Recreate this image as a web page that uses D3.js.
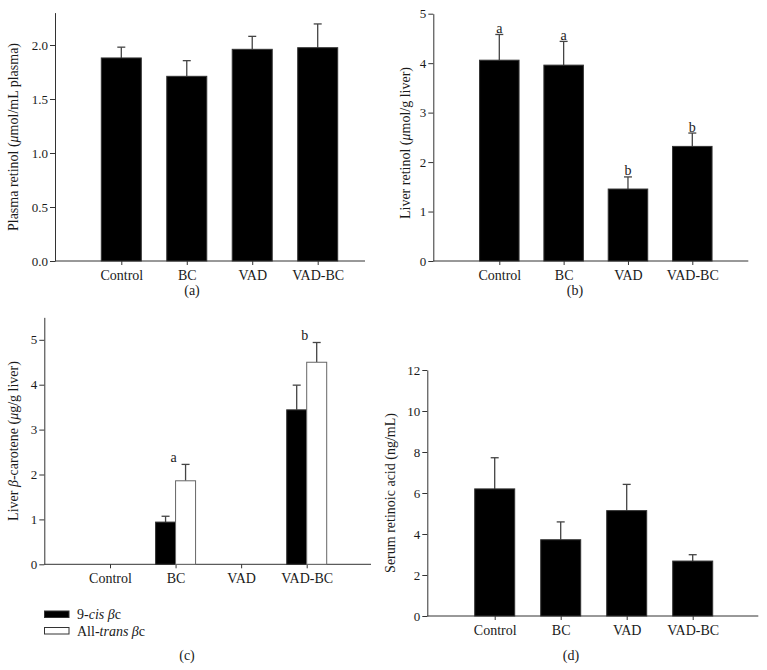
<!DOCTYPE html>
<html><head><meta charset="utf-8">
<script src="https://cdn.jsdelivr.net/npm/d3@7"></script>
<style>
body{margin:0;background:#fff;}
svg{display:block;font-family:"Liberation Serif","Times New Roman",serif;}
</style></head>
<body><svg id="c" width="767" height="670"></svg>
<script>
const categories = ["Control","BC","VAD","VAD-BC"];
// (a) Plasma retinol
const plasmaRetinol = [1.88, 1.71, 1.96, 1.975];
const plasmaRetinolErr = [0.10, 0.145, 0.12, 0.22];
const ticksA = [0, 0.5, 1.0, 1.5, 2.0];
// (b) Liver retinol
const liverRetinol = [4.06, 3.96, 1.455, 2.317];
const liverRetinolErr = [0.52, 0.48, 0.245, 0.27];
const lettersB = ["a","a","b","b"];
const ticksB = [0,1,2,3,4,5];
// (c) Liver beta-carotene
const cisBC = [0, 0.94, 0, 3.44];
const cisBCErr = [0, 0.13, 0, 0.55];
const transBC = [0, 1.86, 0, 4.50];
const transBCErr = [0, 0.365, 0, 0.44];
const lettersC = ["", "a", "", "b"];
const ticksC = [0,1,2,3,4,5];
// (d) Serum retinoic acid
const retinoicAcid = [6.20, 3.72, 5.14, 2.68];
const retinoicAcidErr = [1.52, 0.87, 1.28, 0.31];
const ticksD = [0,2,4,6,8,10,12];

const svg = d3.select("#c");
const FS = 14, FT = 13;
const AX = "#333", ERR = "#444", TXT = "#1a1a1a";

function panel(o){
  const g = svg.append("g");
  const y = d3.scaleLinear().domain([0, o.ymax]).range([o.base, o.top]);
  const x = d3.scalePoint().domain(categories).range([o.c0, o.c1]);
  const ya = g.append("g").attr("transform",`translate(${o.left},0)`)
    .call(d3.axisLeft(y).tickValues(o.ticks).tickSize(5).tickSizeOuter(0).tickPadding(2).tickFormat(o.fmt));
  ya.select(".domain").attr("stroke",AX);
  ya.selectAll(".tick line").attr("stroke",AX);
  ya.selectAll("text").attr("font-family","Liberation Serif").attr("font-size",FT).attr("fill",TXT);
  const xa = g.append("g").attr("transform",`translate(0,${o.base})`)
    .call(d3.axisBottom(x).tickSize(4).tickPadding(5).tickSizeOuter(0));
  xa.select(".domain").remove();
  xa.selectAll(".tick line").attr("stroke",AX);
  xa.selectAll("text").attr("font-family","Liberation Serif").attr("font-size",FS).attr("fill",TXT);
  g.append("line").attr("x1",o.left).attr("x2",o.right).attr("y1",o.base).attr("y2",o.base).attr("stroke",AX);
  const lab = g.append("text").attr("transform",`translate(${o.labX},${o.labY}) rotate(-90)`)
    .attr("text-anchor","middle").attr("font-size",FS).attr("fill",TXT);
  o.label.forEach(p=>lab.append("tspan").attr("font-style",p[1]?"italic":null).text(p[0]));
  g.append("text").attr("x",o.capX).attr("y",o.capY).attr("text-anchor","middle").attr("font-size",FS).attr("fill",TXT).text(o.cap);
  return {g,x,y};
}

function bars(p, vals, errs, w, off, fill, letters){
  const {g,x,y} = p;
  vals.forEach((v,i)=>{
    if(v<=0) return;
    const cx = x(categories[i]) + off;
    const e = v + errs[i];
    g.append("line").attr("x1",cx).attr("x2",cx).attr("y1",y(v)).attr("y2",y(e)).attr("stroke",ERR).attr("stroke-width",1.3);
    g.append("line").attr("x1",cx-4).attr("x2",cx+4).attr("y1",y(e)).attr("y2",y(e)).attr("stroke",ERR).attr("stroke-width",1.3);
    g.append("rect").attr("x",cx-w/2).attr("y",y(v)).attr("width",w).attr("height",y(0)-y(v))
      .attr("fill",fill).attr("stroke",fill==="#000"?"#333":"#666").attr("stroke-width",1);
    if(letters && letters[i]) g.append("text").attr("x",cx).attr("y",y(e)-1.5).attr("text-anchor","middle")
      .attr("font-size",FS).attr("fill",TXT).text(letters[i]);
  });
}

// (a)
const pa = panel({left:55,right:365,base:261,top:261-2.3*108,ymax:2.3,c0:121.3,c1:317.7,ticks:ticksA,fmt:d3.format(".1f"),
  labX:18,labY:137,label:[["Plasma retinol ("],["μ",1],["mol/mL plasma)"]],capX:192,capY:295,cap:"(a)"});
bars(pa, plasmaRetinol, plasmaRetinolErr, 40, 0, "#000");

// (b)
const pb = panel({left:433.3,right:748.3,base:261,top:13.7,ymax:5,c0:499.3,c1:692.3,ticks:ticksB,fmt:d3.format("d"),
  labX:410,labY:143,label:[["Liver retinol ("],["μ",1],["mol/g liver)"]],capX:575,capY:295,cap:"(b)"});
bars(pb, liverRetinol, liverRetinolErr, 39.5, 0, "#000", lettersB);

// (c)
const pc = panel({left:44.3,right:371,base:564.3,top:564.3-5.5*44.9,ymax:5.5,c0:110,c1:306.7,ticks:ticksC,fmt:d3.format("d"),
  labX:18,labY:441,label:[["Liver "],["β",1],["-carotene ("],["μ",1],["g/g liver)"]],capX:187,capY:660,cap:"(c)"});
bars(pc, cisBC, cisBCErr, 20, -10, "#000");
bars(pc, transBC, transBCErr, 20, 10, "#fff");
lettersC.forEach((l,i)=>{
  if(!l) return;
  const e = transBC[i]+transBCErr[i];
  pc.g.append("text").attr("x",pc.x(categories[i])-2).attr("y",pc.y(e)-2).attr("text-anchor","middle")
    .attr("font-size",FS).attr("fill",TXT).text(l);
});
const leg = [[ "#000", [["9-"],["cis",1],[" "],["β",1],["c"]] ], [ "#fff", [["All-"],["trans",1],[" "],["β",1],["c"]] ]];
leg.forEach((d,i)=>{
  const yy = 611 + i*16.5;
  svg.append("rect").attr("x",44.5).attr("y",yy).attr("width",24.5).attr("height",6.5)
    .attr("fill",d[0]).attr("stroke","#333").attr("stroke-width",1);
  const t = svg.append("text").attr("x",77).attr("y",yy+8).attr("font-size",FS).attr("fill",TXT);
  d[1].forEach(p=>t.append("tspan").attr("font-style",p[1]?"italic":null).text(p[0]));
});

// (d)
const pd = panel({left:427.3,right:758.3,base:616,top:370,ymax:12,c0:494.7,c1:692.7,ticks:ticksD,fmt:d3.format("d"),
  labX:395,labY:493,label:[["Serum retinoic acid (ng/mL)"]],capX:571,capY:660,cap:"(d)"});
bars(pd, retinoicAcid, retinoicAcidErr, 40, 0, "#000");
</script></body></html>
